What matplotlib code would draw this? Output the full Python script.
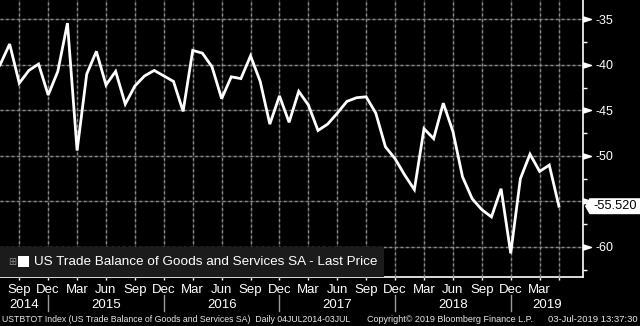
import matplotlib
matplotlib.use("Agg")
import matplotlib.pyplot as plt
import numpy as np
from matplotlib.patches import Polygon, Rectangle
from matplotlib.path import Path
from matplotlib.ticker import FixedLocator, MultipleLocator
import matplotlib.transforms as mtransforms

plt.rcParams["font.family"] = ["Liberation Sans", "DejaVu Sans"]
plt.rcParams["axes.unicode_minus"] = False

# monthly values, Jul 2014 .. May 2019 (USD bn)
trade_balance = [
    -40.0, -37.7, -42.0, -40.6, -39.9, -43.3,                       # 2014 Jul-Dec
    -40.7, -35.4, -49.4, -41.0, -38.5, -42.2,
    -40.7, -44.3, -42.3, -41.2, -40.6, -41.2,                       # 2015
    -41.8, -45.1, -38.4, -38.7, -40.2, -43.7,
    -41.3, -41.5, -39.0, -41.8, -46.5, -43.4,                       # 2016
    -46.3, -42.9, -44.4, -47.2, -46.5, -45.3,
    -44.0, -43.6, -43.5, -45.3, -49.0, -50.3,                       # 2017
    -52.1, -53.7, -47.0, -48.1, -44.2, -47.3,
    -52.3, -54.7, -55.9, -56.7, -53.6, -60.7,                       # 2018
    -52.5, -49.8, -51.7, -51.0, -55.52,                             # 2019 Jan-May
]
last_price = -55.520

# x tick positions are month offsets from Jul 2014
tick_months = [2, 5, 8, 11, 14, 17, 20, 23, 26, 29, 32, 35, 38, 41, 44, 47, 50, 53, 56, 58]
tick_labels = ["Sep", "Dec", "Mar", "Jun", "Sep", "Dec", "Mar", "Jun", "Sep", "Dec",
               "Mar", "Jun", "Sep", "Dec", "Mar", "Jun", "Sep", "Dec", "Mar", ""]
year_labels = ["2014", "2015", "2016", "2017", "2018", "2019"]
year_pos = [2.5, 11, 23, 35, 47, 56.8]
year_breaks = [5, 17, 29, 41, 53]
y_major = [-35, -40, -45, -50, -55, -60]

legend_label = "US Trade Balance of Goods and Services SA - Last Price"
footer_left = "USTBTOT Index (US Trade Balance of Goods and Services SA)  Daily 04JUL2014-03JUL"
footer_mid = "Copyright\u00a9 2019 Bloomberg Finance L.P."
footer_right = "03-Jul-2019 13:37:30"

W, H = 640, 326
fig = plt.figure(figsize=(W / 100, H / 100), dpi=100, facecolor="black")
ax = fig.add_axes([0, 49 / H, 583 / W, 1 - 49 / H], facecolor="black")

x = np.arange(len(trade_balance))
ax.plot(x, trade_balance, color="white", lw=2.0, solid_joinstyle="miter", zorder=4)

XLIM = (0, 60.5)
YLIM = (-63.3, -32.86)

# grid: faint solid base with grey dots on top
base_kw = dict(color="#333333", linewidth=1.0, zorder=2, clip_on=False)
dot_kw = dict(color="#8a8a8a", linewidth=1.0, linestyle=(0, (2, 2)), zorder=3,
              clip_on=False)
for t in tick_months:
    ax.plot([t, t], YLIM, **base_kw)
    ax.plot([t, t], YLIM, **dot_kw)
for v in y_major:
    ax.plot(XLIM, [v, v], **base_kw)
    ax.plot(XLIM, [v, v], **dot_kw)

# axes cosmetics
for side in ("left", "top"):
    ax.spines[side].set_visible(False)
for side in ("right", "bottom"):
    ax.spines[side].set_color("white")
    ax.spines[side].set_linewidth(1.2)

ax.yaxis.tick_right()
ax.yaxis.set_major_locator(FixedLocator(y_major))
ax.yaxis.set_minor_locator(MultipleLocator(2.5))
# the -55 label sits under the last price tag
ax.set_yticklabels([f"{v:d}" if v != -55 else "" for v in y_major])
ax.tick_params(axis="y", which="major", length=0, pad=9, labelsize=9, labelcolor="white")
ax.tick_params(axis="y", which="minor", length=3, width=1, color="white")

ax.set_xticks(tick_months)
ax.set_xticklabels(tick_labels)
ax.tick_params(axis="x", length=2.5, width=1, color="white", pad=2.5,
               labelsize=9.5, labelcolor="white")
ax.set_xlim(*XLIM)
ax.set_ylim(*YLIM)

# arrow heads on the right axis at each major tick
tri = Path([(0, -0.32), (1, 0), (0, 0.32), (0, -0.32)],
           [Path.MOVETO, Path.LINETO, Path.LINETO, Path.CLOSEPOLY])
ytrans = mtransforms.blended_transform_factory(ax.transAxes, ax.transData)
ax.plot([1.0] * len(y_major), y_major, ls="none", marker=tri, ms=11.5,
        color="white", transform=ytrans, clip_on=False, zorder=5)

# year row below month labels
xtrans = mtransforms.blended_transform_factory(ax.transData, ax.transAxes)
px = 1 / (H - 49)
for lab, pos in zip(year_labels, year_pos):
    ax.text(pos, -(305 - 277) * px, lab, transform=xtrans, ha="center", va="center",
            color="white", fontsize=9.5)
for b in year_breaks:
    ax.plot([b, b], [-(295 - 277) * px, -(311 - 277) * px], color="#9a9a9a", lw=1,
            transform=xtrans, clip_on=False)

# legend box
ax.add_patch(Rectangle((0, 0), 384 / 583, 30 * px, transform=ax.transAxes,
                       facecolor="#1b1b1b", edgecolor="none", zorder=6))
ax.text(8 / 583, 15 * px, "\u229e", transform=ax.transAxes, color="#8a8a8a",
        fontsize=7, va="center", ha="left", zorder=7, family="DejaVu Sans")
ax.add_patch(Rectangle((18 / 583, 10 * px), 11 / 583, 11 * px, transform=ax.transAxes,
                       facecolor="white", edgecolor="none", zorder=7))
ax.text(34 / 583, 15 * px, legend_label, transform=ax.transAxes, color="white",
        fontsize=9.7, va="center", ha="left", zorder=7)

# last price tag
y_px = ax.transData.transform((0, last_price))[1]
tag = [(585, y_px), (589.5, y_px + 8), (W, y_px + 8), (W, y_px - 8), (589.5, y_px - 8)]
fig.add_artist(Polygon([(a / W, b / H) for a, b in tag], closed=True,
                       transform=fig.transFigure, facecolor="white", edgecolor="none",
                       zorder=8))
fig.text(593 / W, y_px / H, f"{last_price:.3f}", color="black", fontsize=9.2,
         va="center", ha="left", zorder=9)

# footer
fig.text(2 / W, 7 / H, footer_left, color="#e8e8e8", fontsize=6.3, va="center", ha="left")
fig.text(367 / W, 7 / H, footer_mid, color="#e8e8e8", fontsize=6.5, va="center", ha="left")
fig.text(638 / W, 7 / H, footer_right, color="#e8e8e8", fontsize=6.8, va="center", ha="right")

fig.savefig("out.png", dpi=100, facecolor="black")
